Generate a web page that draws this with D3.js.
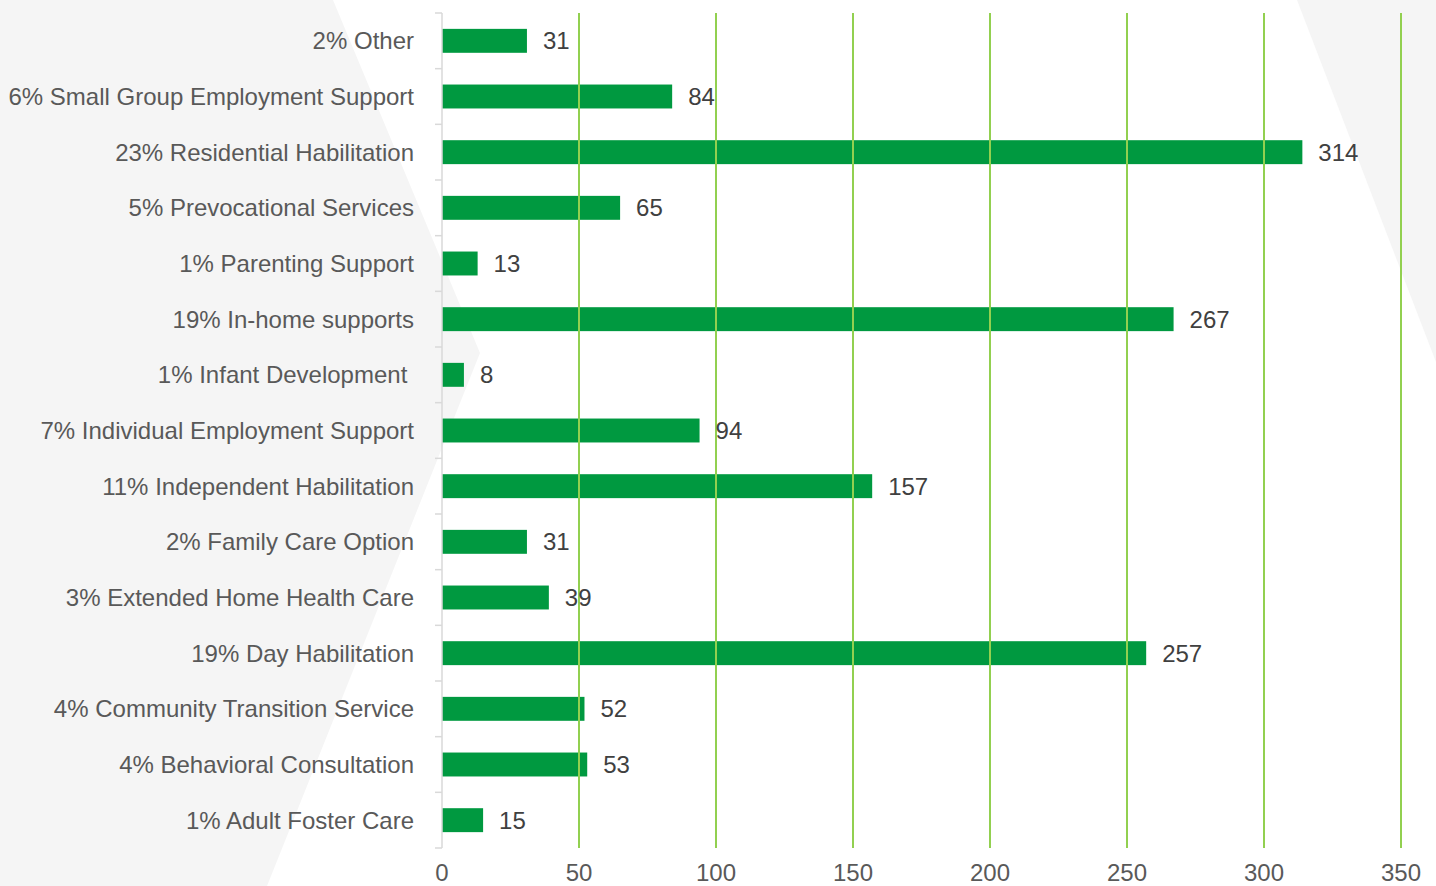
<!DOCTYPE html>
<html>
<head>
<meta charset="utf-8">
<script src="https://cdn.jsdelivr.net/npm/d3@7"></script>
<style>
  html, body { margin: 0; padding: 0; background: #ffffff; }
  svg { display: block; font-family: "Liberation Sans", Arial, sans-serif; }
</style>
</head>
<body>
<svg id="chart" width="1436" height="886"></svg>
<script>
// Service categories, top to bottom
const categories = [
  "2% Other",
  "6% Small Group Employment Support",
  "23% Residential Habilitation",
  "5% Prevocational Services",
  "1% Parenting Support",
  "19% In-home supports",
  "1% Infant Development ",
  "7% Individual Employment Support",
  "11% Independent Habilitation",
  "2% Family Care Option",
  "3% Extended Home Health Care",
  "19% Day Habilitation",
  "4% Community Transition Service",
  "4% Behavioral Consultation",
  "1% Adult Foster Care"
];
const counts = [31, 84, 314, 65, 13, 267, 8, 94, 157, 31, 39, 257, 52, 53, 15];
const xTicks = [0, 50, 100, 150, 200, 250, 300, 350];

const svg = d3.select("#chart");
const plot = { left: 442, top: 13, bottom: 848 };

// Soft grey backdrop shapes
const bg = svg.append("g");
bg.append("path")
  .attr("d", "M0,0 L333,0 L480,353 L267,886 L0,886 Z")
  .attr("fill", "#f5f5f5");
bg.append("path")
  .attr("d", "M1297,0 L1436,0 L1436,362 Z")
  .attr("fill", "#f5f5f5");

const x = d3.scaleLinear().domain([0, 350]).range([plot.left, plot.left + 350 * 2.74]);
const y = d3.scaleBand().domain(categories).range([plot.top, plot.bottom])
  .paddingInner(0.57).paddingOuter(0.285);
const step = y.step();

// Bars
svg.append("g").selectAll("rect")
  .data(categories)
  .join("rect")
  .attr("x", x(0))
  .attr("y", d => y(d))
  .attr("width", (d, i) => x(counts[i]) - x(0))
  .attr("height", y.bandwidth())
  .attr("fill", "#009940");

// Vertical gridlines (drawn above bars)
svg.append("g").selectAll("line")
  .data(xTicks.filter(t => t > 0))
  .join("line")
  .attr("x1", d => x(d)).attr("x2", d => x(d))
  .attr("y1", plot.top).attr("y2", plot.bottom)
  .attr("stroke", "#92d050")
  .attr("stroke-width", 2);

// Category axis line with boundary ticks
const axisG = svg.append("g");
axisG.append("line")
  .attr("x1", x(0)).attr("x2", x(0))
  .attr("y1", plot.top).attr("y2", plot.bottom)
  .attr("stroke", "#d9d9d9").attr("stroke-width", 1.5);
const bounds = d3.range(categories.length + 1).map(i => plot.top + i * step);
axisG.selectAll("line.tick")
  .data(bounds)
  .join("line")
  .attr("class", "tick")
  .attr("x1", x(0) - 7).attr("x2", x(0))
  .attr("y1", d => d).attr("y2", d => d)
  .attr("stroke", "#d9d9d9").attr("stroke-width", 1.5);

// Category labels
svg.append("g").selectAll("text")
  .data(categories)
  .join("text")
  .attr("x", 414)
  .attr("y", d => y(d) + y.bandwidth() / 2)
  .attr("dy", "0.35em")
  .attr("text-anchor", "end")
  .attr("font-size", 24)
  .attr("fill", "#595959")
  .style("white-space", "pre")
  .text(d => d);

// Value labels
svg.append("g").selectAll("text")
  .data(categories)
  .join("text")
  .attr("x", (d, i) => x(counts[i]) + 16)
  .attr("y", d => y(d) + y.bandwidth() / 2)
  .attr("dy", "0.35em")
  .attr("font-size", 24)
  .attr("fill", "#404040")
  .text((d, i) => counts[i]);

// Value axis tick labels
svg.append("g").selectAll("text")
  .data(xTicks)
  .join("text")
  .attr("x", d => x(d))
  .attr("y", 873)
  .attr("dy", "0.35em")
  .attr("text-anchor", "middle")
  .attr("font-size", 24)
  .attr("fill", "#595959")
  .text(d => d);
</script>
</body>
</html>
